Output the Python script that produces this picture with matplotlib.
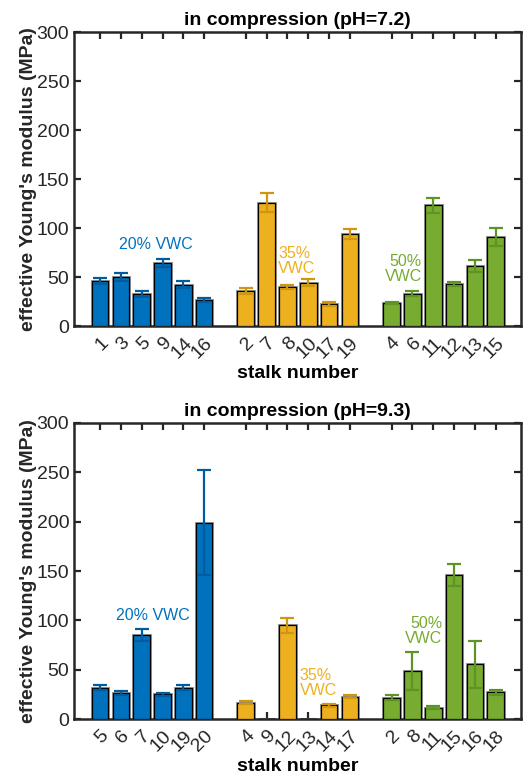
import numpy as np
import matplotlib.pyplot as plt

plt.rcParams['font.family'] = ['Liberation Sans', 'DejaVu Sans']

# bar slots: three groups of six, one empty slot between groups
positions = [1, 2, 3, 4, 5, 6, 8, 9, 10, 11, 12, 13, 15, 16, 17, 18, 19, 20]

# pH = 7.2
stalks_72 = ['1', '3', '5', '9', '14', '16',
             '2', '7', '8', '10', '17', '19',
             '4', '6', '11', '12', '13', '15']
mean_72 = [46, 50, 33, 64, 42, 26.5,
           35.5, 126, 40, 44, 22.5, 94,
           23.5, 33, 123, 43, 61, 91]
err_72 = [3, 4, 3, 4, 3.5, 2.5,
          3, 10, 2, 3.5, 2.5, 5.5,
          1.5, 2.5, 7.5, 2, 6, 9]

# pH = 9.3 (stalks 9 and 13 have no measurement)
stalks_93 = ['5', '6', '7', '10', '19', '20',
             '4', '9', '12', '13', '14', '17',
             '2', '8', '11', '15', '16', '18']
mean_93 = [31.5, 26, 85, 25, 31.5, 199,
           16.5, np.nan, 95, np.nan, 14, 22.5,
           21.5, 48.5, 11.5, 146, 55.5, 27]
err_93 = [2.5, 2, 6, 1.5, 2.5, 53,
          1.5, np.nan, 7.5, np.nan, 1.5, 1.5,
          2.5, 19.5, 1.5, 11.5, 24, 2.5]

bar_colors = ['#0072BD'] * 6 + ['#EDB120'] * 6 + ['#77AC30'] * 6
err_colors = ['#005C9E'] * 6 + ['#CF960F'] * 6 + ['#5E9426'] * 6

labels_72 = [('20% VWC', 3.7, 83, 'center'), ('35%\nVWC', 9.55, 66, 'left'), ('50%\nVWC', 16.45, 58, 'right')]
labels_93 = [('20% VWC', 3.55, 105, 'center'), ('35%\nVWC', 10.6, 37, 'left'), ('50%\nVWC', 17.45, 89, 'right')]
text_colors = ['#0072BD', '#EDB120', '#77AC30']


def draw_panel(ax, means, errs, stalks, title, labels):
    heights = np.nan_to_num(np.array(means, dtype=float))
    ax.bar(positions, heights, width=0.8, color=bar_colors,
           edgecolor='#9a9a9a', linewidth=2.2, zorder=2)
    ax.bar(positions, heights, width=0.8, color=bar_colors,
           edgecolor='black', linewidth=0.9, zorder=3)
    for x, m, e, c in zip(positions, means, errs, err_colors):
        if np.isnan(m):
            continue
        ax.errorbar(x, m, yerr=e, color=c, capsize=5, capthick=1.6,
                    elinewidth=1.6, fmt='none', zorder=4)
    for (txt, x, y, ha), c in zip(labels, text_colors):
        ax.text(x, y, txt, color=c, ha=ha, va='center', multialignment=ha,
                fontsize=11.5, linespacing=1.0)
    ax.set_xlim(-0.25, 21.2)
    ax.set_ylim(0, 300)
    ax.set_yticks(range(0, 301, 50))
    ax.set_xticks(positions)
    ax.set_xticklabels(stalks, rotation=45, ha='right', va='top',
                       rotation_mode='anchor', fontsize=14)
    ax.tick_params(axis='y', labelsize=14)
    ax.tick_params(direction='in', top=True, right=True, length=5,
                   width=1.6, color='#262626', labelcolor='#262626')
    ax.tick_params(axis='x', pad=6)
    for s in ax.spines.values():
        s.set_linewidth(1.8)
        s.set_color('#262626')
    ax.set_title(title, fontsize=14, fontweight='bold', pad=5)
    ax.set_xlabel('stalk number', fontsize=14, fontweight='bold', labelpad=2)
    ax.set_ylabel("effective Young's modulus (MPa)", fontsize=14,
                  fontweight='bold', labelpad=0, color='#262626')


fig = plt.figure(figsize=(5.23, 7.79), dpi=100)
ax1 = fig.add_axes([0.1415, 0.5815, 0.8540, 0.3774])
ax2 = fig.add_axes([0.1415, 0.0770, 0.8540, 0.3800])

draw_panel(ax1, mean_72, err_72, stalks_72, 'in compression (pH=7.2)', labels_72)
draw_panel(ax2, mean_93, err_93, stalks_93, 'in compression (pH=9.3)', labels_93)

fig.savefig('out.png', dpi=100)
